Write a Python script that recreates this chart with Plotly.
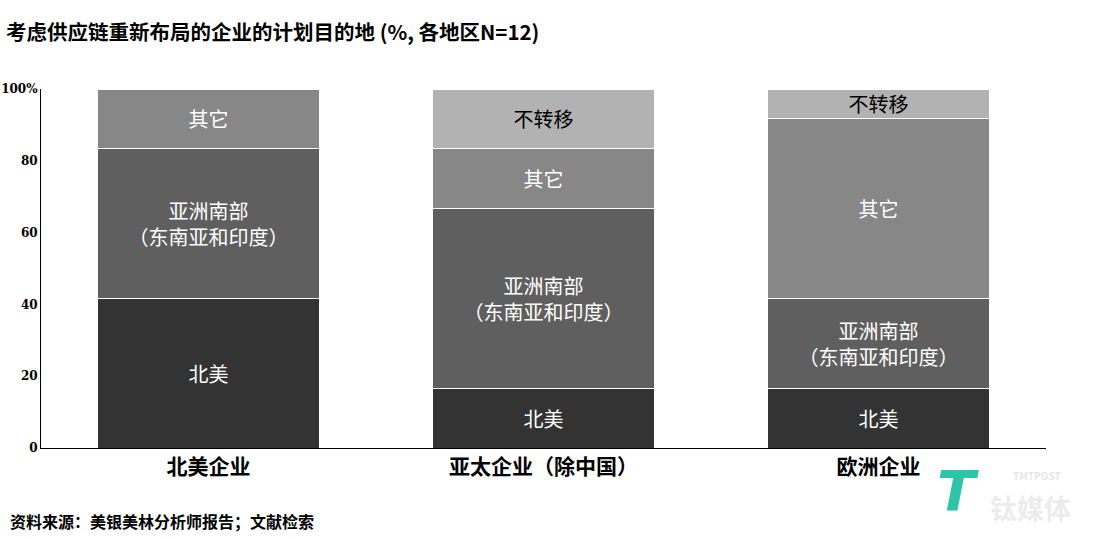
import plotly.graph_objects as go

categories = ["北美企业", "亚太企业（除中国）", "欧洲企业"]
series_names = ["北美", "亚洲南部<br>（东南亚和印度）", "其它", "不转移"]
na_values = [41.7, 16.7, 16.7]
sa_values = [41.7, 50.0, 25.0]
other_values = [16.6, 16.6, 50.0]
nomove_values = [0, 16.7, 8.3]
series_values = [na_values, sa_values, other_values, nomove_values]
colors = ["#333333", "#5f5f5f", "#878787", "#b2b2b2"]
text_colors = ["white", "white", "white", "black"]
y_ticks = [0, 20, 40, 60, 80, 100]
y_tick_labels = ["0", "20", "40", "60", "80", "100%"]

FONT = "Noto Sans CJK SC"
W, H = 1095, 541
L, R, T, B = 41, 49, 89, 93
pw, ph = W - L - R, H - T - B


def to_paper(px, py):
    return (px - L) / pw, (H - B - py) / ph


fig = go.Figure()
for name, vals, col, tc in zip(series_names, series_values, colors, text_colors):
    fig.add_trace(go.Bar(
        x=categories, y=vals, name=name,
        marker=dict(color=col, line=dict(color="white", width=1)),
        text=[name if v > 0 else "" for v in vals],
        texttemplate="%{text}",
        textposition="inside", insidetextanchor="middle",
        textangle=0, constraintext="none",
        textfont=dict(family=FONT, size=20, color=tc),
        hoverinfo="skip",
    ))

ax1 = to_paper(8, 521)
ax2 = to_paper(1037, 475)
ax3 = to_paper(1030, 507)
ax4 = to_paper(958, 490)

fig.update_layout(
    barmode="stack", bargap=0.337,
    width=W, height=H,
    margin=dict(l=L, r=R, t=T, b=B, autoexpand=False),
    plot_bgcolor="white", paper_bgcolor="white",
    showlegend=False,
    font=dict(family=FONT, color="black"),
    title=dict(
        text="<b>考虑供应链重新布局的企业的计划目的地 (%, 各地区N=12)</b>",
        xref="container", yref="container",
        x=6 / W, xanchor="left", y=1 - 33 / H, yanchor="middle",
        font=dict(family=FONT, size=20.5, color="black"),
    ),
    xaxis=dict(
        showline=True, linecolor="black", linewidth=1, automargin=False,
        ticks="", tickfont=dict(family=FONT, size=21, color="black"),
        tickprefix="<b>", ticksuffix="</b>",
    ),
    yaxis=dict(
        range=[0, 100], showline=True, linecolor="black", linewidth=1,
        showgrid=False, zeroline=False, ticks="", automargin=False,
        tickvals=y_ticks, ticktext=["<b>%s</b>" % t for t in y_tick_labels],
        tickfont=dict(family="DejaVu Serif", size=12, color="black"),
    ),
    annotations=[
        dict(text="<b>资料来源：美银美林分析师报告；文献检索</b>", x=ax1[0], y=ax1[1],
             xref="paper", yref="paper", xanchor="left", yanchor="middle",
             showarrow=False, font=dict(family=FONT, size=16, color="black")),
        dict(text="<b>TMTPOST</b>", x=ax2[0], y=ax2[1], xref="paper", yref="paper",
             xanchor="center", yanchor="middle", showarrow=False,
             font=dict(family=FONT, size=10, color="#e6e6e6")),
        dict(text="<b>钛媒体</b>", x=ax3[0], y=ax3[1], xref="paper", yref="paper",
             xanchor="center", yanchor="middle", showarrow=False,
             font=dict(family=FONT, size=27, color="#ececec")),
        dict(text="<b><i>T</i></b>", x=ax4[0], y=ax4[1], xref="paper", yref="paper",
             xanchor="center", yanchor="middle", showarrow=False,
             font=dict(family="DejaVu Sans", size=56, color="#2ec4a9")),
    ],
)

fig.write_html("out.html", config={"displayModeBar": False},
               post_script="document.body.style.margin='0px';")
